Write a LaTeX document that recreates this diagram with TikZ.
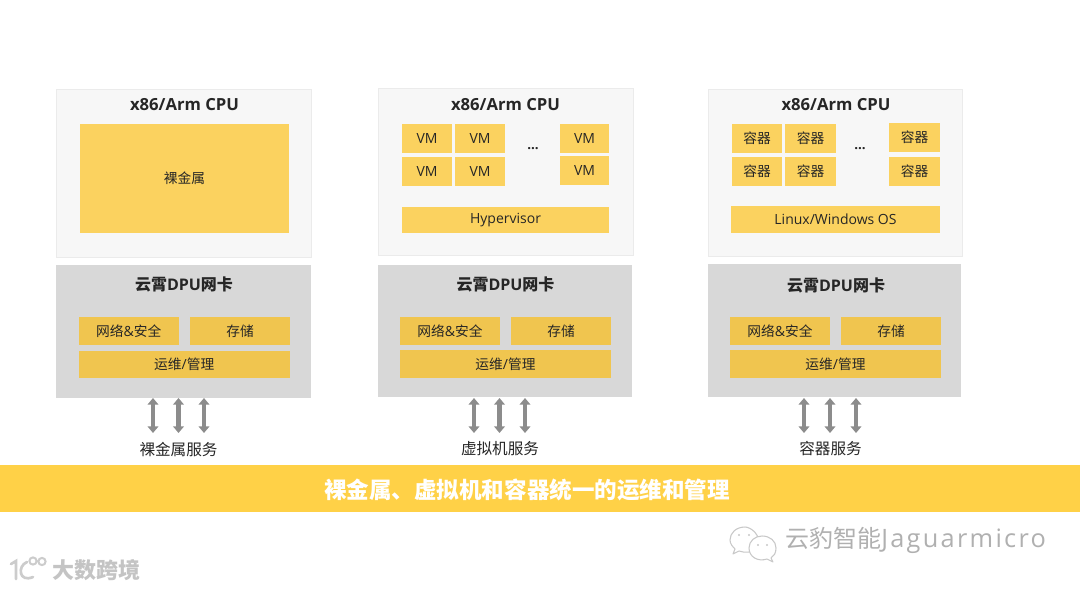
\documentclass[tikz,border=0pt]{standalone}
\usepackage{fontspec}
\setmainfont{Noto Sans CJK SC}
\newfontfamily\latinf{Open Sans}
\newfontfamily\wmlat[LetterSpace=9]{Open Sans}
\usetikzlibrary{arrows.meta}
\definecolor{cpubg}{HTML}{F7F7F7}
\definecolor{cpuline}{HTML}{EBEBEB}
\definecolor{softy}{HTML}{FBD25F}
\definecolor{dpubg}{HTML}{D8D8D8}
\definecolor{dpuy}{HTML}{F0C54F}
\definecolor{bandy}{HTML}{FFD147}
\definecolor{ink}{HTML}{262626}
\definecolor{arrowg}{HTML}{8C8C8C}
\definecolor{wm}{HTML}{B0B0B0}
\tikzset{
  x=0.75pt,y=-0.75pt,
  boxbase/.style={inner sep=0pt,outer sep=0pt,align=center,text=ink,font=\fontsize{10.3pt}{12pt}\selectfont},
  cpubox/.style={boxbase,fill=cpubg,draw=cpuline,line width=0.6pt},
  softbox/.style={boxbase,fill=softy},
  dpubox/.style={boxbase,fill=dpubg},
  dpuitem/.style={boxbase,fill=dpuy},
  title/.style={inner sep=0pt,text=ink,font=\latinf\bfseries\fontsize{12.5pt}{14pt}\selectfont},
  dputitle/.style={inner sep=0pt,text=ink,font=\fontsize{12pt}{14pt}\selectfont\bfseries},
  svc/.style={inner sep=0pt,text=ink,font=\fontsize{11.7pt}{13pt}\selectfont},
  dots/.style={inner sep=0pt,text=ink,font=\latinf\bfseries\fontsize{10pt}{12pt}\selectfont},
  biarrow/.style={draw=arrowg,line width=3.5pt,{Triangle[length=5pt,width=8pt]}-{Triangle[length=5pt,width=8pt]}},
}
% name, x1, y1, x2, y2, style, text
\newcommand\bx[7]{%
  \pgfmathsetmacro\bw{(#4-#2)*0.75}\pgfmathsetmacro\bh{(#5-#3)*0.75}%
  \pgfmathsetmacro\cx{(#2+#4)/2}\pgfmathsetmacro\cy{(#3+#5)/2}%
  \node[#6,minimum width=\bw pt,minimum height=\bh pt] (#1) at (\cx,\cy) {#7};}
\newcommand\lat[1]{{\latinf\fontsize{10.5pt}{12pt}\selectfont #1}}
\newcommand\tlat[1]{{\latinf #1}}
\begin{document}
\begin{tikzpicture}
\useasboundingbox (0,0) rectangle (1080,590);
\fill[white] (0,0) rectangle (1080,590);
% Panel 1
\bx{cpua}{56}{89}{311.5}{257}{cpubox}{}
\node[title] (ta) at (184.5,105) {x86/Arm CPU};
\bx{bare}{80}{123.5}{289}{233}{softbox}{裸金属}
\bx{dpua}{56}{265}{310.5}{398}{dpubox}{}
\node[dputitle] (da) at (184,284) {云霄\tlat{DPU}网卡};
\bx{na}{78.5}{317}{179}{345}{dpuitem}{网络\lat{\&}安全}
\bx{sa}{190}{317}{290}{345}{dpuitem}{存储}
\bx{oa}{78.5}{350.5}{290}{378}{dpuitem}{运维\lat{/}管理}
% Panel 2
\bx{cpub}{378}{88}{633}{255}{cpubox}{}
\node[title] (tb) at (505.5,105) {x86/Arm CPU};
\bx{vma}{402}{124}{452}{153}{softbox}{\lat{VM}}
\bx{vmb}{455}{124}{505}{153}{softbox}{\lat{VM}}
\bx{vmc}{402}{157}{452}{186}{softbox}{\lat{VM}}
\bx{vmd}{455}{157}{505}{186}{softbox}{\lat{VM}}
\bx{vme}{560}{124}{609}{153}{softbox}{\lat{VM}}
\bx{vmf}{560}{156}{609}{185}{softbox}{\lat{VM}}
\node[dots] (db) at (533,149) {...};
\bx{hyp}{402}{207}{609}{233}{softbox}{\lat{Hypervisor}}
\bx{dpub}{378}{265}{632}{397}{dpubox}{}
\node[dputitle] (dbb) at (505.5,284.5) {云霄\tlat{DPU}网卡};
\bx{nb}{400}{317}{500}{345}{dpuitem}{网络\lat{\&}安全}
\bx{sb}{511}{317}{611}{345}{dpuitem}{存储}
\bx{ob}{400}{350}{611}{378}{dpuitem}{运维\lat{/}管理}
% Panel 3
\bx{cpuc}{708}{89}{962}{256}{cpubox}{}
\node[title] (tc) at (836,105) {x86/Arm CPU};
\bx{ca}{732}{124}{782}{153}{softbox}{容器}
\bx{cb}{785}{124}{836}{153}{softbox}{容器}
\bx{cc}{732}{157}{782}{186}{softbox}{容器}
\bx{cd}{785}{157}{836}{186}{softbox}{容器}
\bx{ce}{889}{123}{940}{152}{softbox}{容器}
\bx{cf}{889}{157}{940}{186}{softbox}{容器}
\node[dots] (dc) at (860,149) {...};
\bx{os}{731}{206}{940}{233}{softbox}{\lat{Linux/Windows OS}}
\bx{dpuc}{708}{264}{961}{397}{dpubox}{}
\node[dputitle] (dcc) at (836,285) {云霄\tlat{DPU}网卡};
\bx{nc}{730}{317}{830}{345}{dpuitem}{网络\lat{\&}安全}
\bx{sc}{841}{317}{941}{345}{dpuitem}{存储}
\bx{oc}{730}{350}{941}{378}{dpuitem}{运维\lat{/}管理}
% Service labels
\node[svc] (la) at (178.5,449) {裸金属服务};
\node[svc] (lb) at (500,449) {虚拟机服务};
\node[svc] (lc) at (830.5,449) {容器服务};
% Arrows
\foreach \n/\x in {a1/153,a2/178.5,a3/204,b1/474,b2/499.5,b3/525,c1/804,c2/830,c3/856}{
  \coordinate (top\n) at (\x,398);
  \coordinate (bot\n) at (\x,433);
  \draw[biarrow] (top\n) -- (bot\n);
}
% Band
\bx{band}{0}{465}{1080}{512}{boxbase,fill=bandy}{}
\node[inner sep=0pt,text=white,font=\fontsize{16.9pt}{20pt}\selectfont\bfseries] (bandtext) at (527,490) {裸金属、虚拟机和容器统一的运维和管理};
% Watermarks
\node[inner sep=0pt,text=wm,anchor=west,font=\fontsize{18pt}{20pt}\selectfont] (wma) at (785,540) {云豹智能{\wmlat\fontsize{19pt}{20pt}\selectfont Jaguarmicro}};
\node[inner sep=0pt,text=wm!75,anchor=west,font=\fontsize{16.5pt}{18pt}\selectfont\bfseries] (wmb) at (52,570) {大数跨境};
% WeChat icon
\draw[wm!70,line width=0.8pt,fill=white,line join=round]
  (758,548) .. controls (762,534) and (750,527) .. (745,527)
  .. controls (736,527) and (730,533) .. (730,540)
  .. controls (730,544) and (733,547) .. (735,549) -- (733,554) -- (739,551)
  .. controls (745,553) and (752,553) .. (758,548) -- cycle;
\draw[wm!70,line width=0.8pt,fill=white,line join=round]
  (749,548) .. controls (749,541) and (755,536) .. (762,536)
  .. controls (770,536) and (776,541) .. (776,548)
  .. controls (776,553) and (774,556) .. (771,558) -- (773,562) -- (767,559)
  .. controls (758,562) and (749,557) .. (749,548) -- cycle;
\foreach \p in {(739,535),(749,535),(758,545),(767,545)} \fill[wm!70] \p circle (1.2);
% Small logo
\draw[wm!65,line width=2pt,line cap=round]
  (11,564) -- (16,561) -- (16,579);
\draw[wm!65,line width=2pt,line cap=round]
  (27,562) .. controls (17,566) and (19,583) .. (33,577);
\draw[wm!65,line width=1.5pt] (33,561) circle (3.6) (42,561.5) circle (3.6);
\end{tikzpicture}
\end{document}
